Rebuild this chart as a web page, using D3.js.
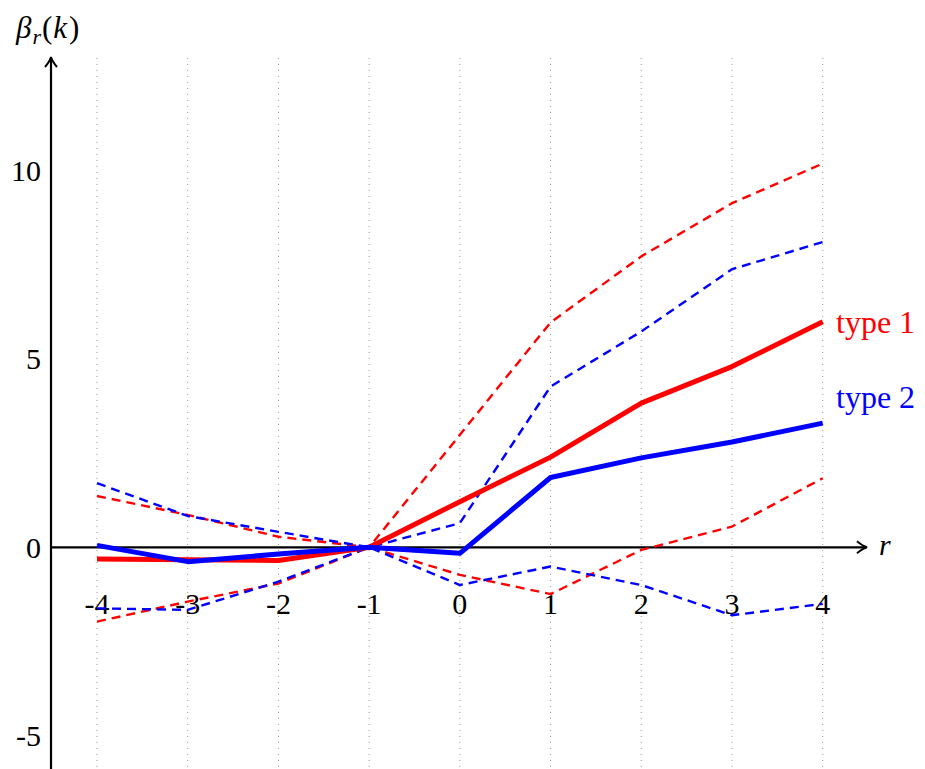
<!DOCTYPE html>
<html><head><meta charset="utf-8">
<script src="https://cdn.jsdelivr.net/npm/d3@7"></script>
<style>body{margin:0;background:#fff}</style>
</head><body>
<svg id="c" width="925" height="769"></svg>
<script>
const rValues = [-4,-3,-2,-1,0,1,2,3,4];
const yTicks = [-5,0,5,10];
const type1 = [-0.31,-0.33,-0.35,0,1.21,2.39,3.82,4.79,5.98];
const type1Upper = [1.36,0.86,0.28,0,2.98,5.96,7.71,9.12,10.17];
const type1Lower = [-1.97,-1.44,-0.96,0,-0.73,-1.24,-0.07,0.55,1.83];
const type2 = [0.05,-0.38,-0.18,0,-0.16,1.85,2.37,2.79,3.29];
const type2Upper = [1.70,0.83,0.41,0,0.64,4.26,5.72,7.37,8.09];
const type2Lower = [-1.62,-1.66,-0.91,0,-1.0,-0.51,-1.0,-1.80,-1.50];
const seriesNames = ["type 1","type 2"];

const svg = d3.select("#c");
const font = "'Liberation Serif', 'DejaVu Serif', serif";
const x = d3.scaleLinear().domain([-4,4]).range([97,822.7]);
const y = d3.scaleLinear().domain([0,10]).range([547.3,170]);
const axisX0 = 51;

// dotted grid
svg.append("g").selectAll("line").data(rValues).join("line")
  .attr("x1", d=>x(d)).attr("x2", d=>x(d)).attr("y1", 58).attr("y2", 769)
  .attr("stroke", "#999").attr("stroke-width", 1).attr("stroke-dasharray", "1 5");

// axes
svg.append("line").attr("x1", axisX0).attr("x2", axisX0).attr("y1", 769).attr("y2", 58)
  .attr("stroke","#000").attr("stroke-width",2.2);
svg.append("path").attr("d", `M${axisX0-6},${67} Q${axisX0-1},${61} ${axisX0},${57} Q${axisX0+1},${61} ${axisX0+6},${67}`)
  .attr("fill","none").attr("stroke","#000").attr("stroke-width",2);
svg.append("line").attr("x1", axisX0).attr("x2", 866).attr("y1", y(0)).attr("y2", y(0))
  .attr("stroke","#000").attr("stroke-width",2.2);
svg.append("path").attr("d", `M${857},${y(0)-6} Q${863},${y(0)-1} ${867},${y(0)} Q${863},${y(0)+1} ${857},${y(0)+6}`)
  .attr("fill","none").attr("stroke","#000").attr("stroke-width",2);

// y tick labels
svg.append("g").selectAll("text").data(yTicks).join("text")
  .attr("x", 41).attr("y", d=>y(d)).attr("dy","0.35em")
  .attr("text-anchor","end").attr("font-family",font).attr("font-size",30)
  .text(d=>d);
// x tick labels
svg.append("g").selectAll("text").data(rValues).join("text")
  .attr("x", d=>x(d)).attr("y", 603).attr("dy","0.35em")
  .attr("text-anchor","middle").attr("font-family",font).attr("font-size",30)
  .text(d=>d);

// axis labels
svg.append("text").attr("x",879).attr("y",555).attr("font-family",font).attr("font-size",30)
  .attr("font-style","italic").text("r");
const yl = svg.append("text").attr("x",16).attr("y",38).attr("font-family",font).attr("font-size",31);
yl.append("tspan").attr("font-style","italic").text("β");
yl.append("tspan").attr("font-style","italic").attr("font-size",22).attr("dy",6).attr("dx",1).text("r");
yl.append("tspan").attr("dy",-6).attr("dx",1).text("(");
yl.append("tspan").attr("font-style","italic").attr("dx",1).text("k");
yl.append("tspan").attr("dx",2).text(")");

const line = d3.line().x((d,i)=>x(rValues[i])).y(d=>y(d));
const drawn = [
  {v:type1Upper, c:"#ff0000", w:2.4, dash:"9 6"},
  {v:type1Lower, c:"#ff0000", w:2.4, dash:"9 6"},
  {v:type2Upper, c:"#0000ff", w:2.4, dash:"9 6"},
  {v:type2Lower, c:"#0000ff", w:2.4, dash:"9 6"},
  {v:type1, c:"#ff0000", w:5, dash:null},
  {v:type2, c:"#0000ff", w:5, dash:null}
];
drawn.forEach(s=>{
  svg.append("path").attr("d", line(s.v)).attr("fill","none")
    .attr("stroke", s.c).attr("stroke-width", s.w)
    .attr("stroke-dasharray", s.dash).attr("stroke-linejoin","round");
});

// series labels
svg.append("text").attr("x",836).attr("y",y(type1[8])).attr("dy","0.35em")
  .attr("font-family",font).attr("font-size",32).attr("fill","#ff0000").text(seriesNames[0]);
svg.append("text").attr("x",836).attr("y",y(type2[8])-26).attr("dy","0.35em")
  .attr("font-family",font).attr("font-size",32).attr("fill","#0000ff").text(seriesNames[1]);
</script>
</body></html>
